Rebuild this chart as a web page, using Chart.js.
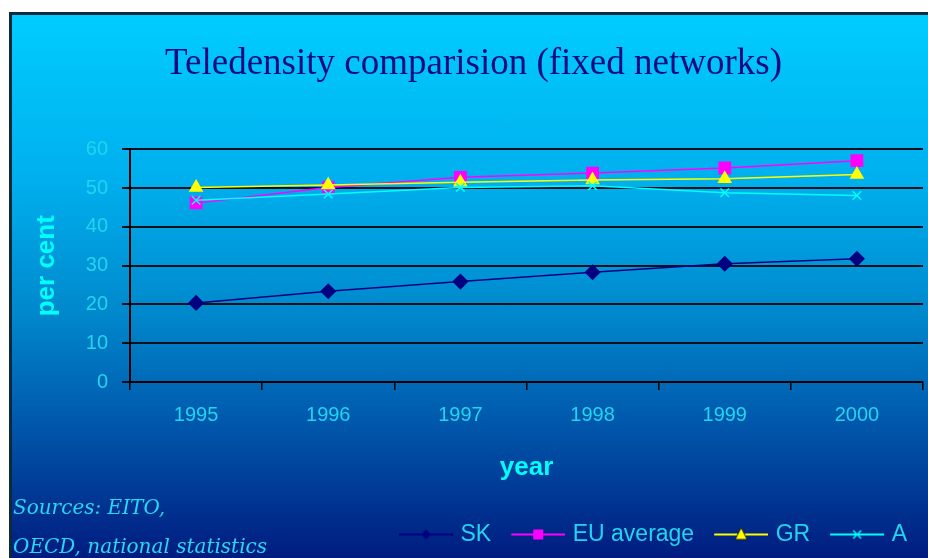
<!DOCTYPE html>
<html>
<head>
<meta charset="utf-8">
<script src="https://cdn.jsdelivr.net/npm/chart.js@4"></script>
<style>
  body { margin: 0; background: #fff; width: 928px; height: 558px; overflow: hidden; }
  #frame {
    position: absolute; left: 9px; top: 12px; width: 916px; height: 543px;
    border-left: 3px solid #0b2a3c; border-top: 3px solid #0b2a3c;
    background: linear-gradient(to bottom, #00ccff 0%, #00b0ee 30%, #0088cc 55%, #0058ac 75%, #001c80 100%);
  }
  #chart { position: absolute; left: 12px; top: 15px; }
  #sources {
    position: absolute; left: 13px; top: 488px;
    font: italic 20px "DejaVu Serif", serif; line-height: 39px; color: #2ad6ee;
  }
</style>
</head>
<body>
<div id="frame"></div>
<canvas id="chart" width="916" height="543"></canvas>
<div id="sources">Sources: EITO,<br>OECD, national statistics</div>
<script>
const years = ['1995', '1996', '1997', '1998', '1999', '2000'];
const skValues = [20.4, 23.4, 25.9, 28.3, 30.5, 31.8];
const euValues = [46.2, 50.2, 52.8, 53.9, 55.2, 57.1];
const grValues = [50.2, 50.8, 51.5, 52.1, 52.4, 53.5];
const aValues = [46.9, 48.5, 50.2, 50.6, 48.8, 48.1];
const seriesNames = ['SK', 'EU average', 'GR', 'A'];

const textColor = '#22d4ee';

// small line + marker pictures for the legend
function legendIcon(color, style) {
    const c = document.createElement('canvas');
    c.width = 62;
    c.height = 16;
    const g = c.getContext('2d');
    g.strokeStyle = color;
    g.lineWidth = 2;
    g.beginPath();
    g.moveTo(8, 8);
    g.lineTo(62, 8);
    g.stroke();
    g.fillStyle = color;
    const cx = 35, cy = 8;
    if (style === 'diamond') {
        g.beginPath();
        g.moveTo(cx, cy - 5); g.lineTo(cx + 5, cy); g.lineTo(cx, cy + 5); g.lineTo(cx - 5, cy);
        g.closePath(); g.fill();
    } else if (style === 'square') {
        g.fillRect(cx - 5, cy - 5, 10, 10);
    } else if (style === 'triangle') {
        g.beginPath();
        g.moveTo(cx, cy - 7); g.lineTo(cx + 6, cy + 5); g.lineTo(cx - 6, cy + 5);
        g.closePath(); g.fill();
        g.strokeStyle = '#1a1a10'; g.lineWidth = 1; g.stroke();
    } else {
        g.lineWidth = 1.5;
        g.beginPath();
        g.moveTo(cx - 4, cy - 4); g.lineTo(cx + 4, cy + 4);
        g.moveTo(cx + 4, cy - 4); g.lineTo(cx - 4, cy + 4);
        g.stroke();
    }
    return c;
}

const icons = [
    legendIcon('#000080', 'diamond'),
    legendIcon('#ff00ff', 'square'),
    legendIcon('#ffff00', 'triangle'),
    legendIcon('#00ffff', 'cross')
];

const ctx = document.getElementById('chart').getContext('2d');
new Chart(ctx, {
    type: 'line',
    data: {
        labels: years,
        datasets: [
            {
                label: seriesNames[0],
                data: skValues,
                borderColor: '#000080',
                backgroundColor: '#000080',
                borderWidth: 1.5,
                pointStyle: 'rectRot',
                pointRadius: 7,
                order: 3
            },
            {
                label: seriesNames[1],
                data: euValues,
                borderColor: '#ff00ff',
                backgroundColor: '#ff00ff',
                borderWidth: 1.5,
                pointStyle: 'rect',
                pointRadius: 8,
                order: 2
            },
            {
                label: seriesNames[2],
                data: grValues,
                borderColor: '#ffff00',
                backgroundColor: '#ffff00',
                borderWidth: 1.5,
                pointStyle: 'triangle',
                pointRadius: 7,
                order: 1
            },
            {
                label: seriesNames[3],
                data: aValues,
                borderColor: '#00ffff',
                backgroundColor: '#00ffff',
                borderWidth: 1.5,
                pointStyle: 'crossRot',
                pointRadius: 6,
                pointBorderWidth: 1.5,
                order: 0
            }
        ]
    },
    options: {
        responsive: false,
        devicePixelRatio: 1,
        animation: false,
        layout: {
            autoPadding: false,
            padding: { left: 12, right: 5, top: 0, bottom: 2 }
        },
        plugins: {
            title: {
                display: true,
                text: 'Teledensity comparision (fixed networks)',
                color: '#0a0a82',
                font: { family: 'Liberation Serif', size: 37, weight: 'normal' },
                padding: { top: 27, bottom: 63 }
            },
            legend: {
                position: 'bottom',
                align: 'end',
                labels: {
                    color: textColor,
                    font: { family: 'Liberation Sans', size: 23 },
                    usePointStyle: true,
                    pointStyleWidth: 54,
                    padding: 16,
                    generateLabels: function(chart) {
                        return chart.data.datasets.map(function(ds, i) {
                            return {
                                text: ds.label,
                                fillStyle: ds.backgroundColor,
                                strokeStyle: ds.borderColor,
                                pointStyle: icons[i],
                                fontColor: textColor,
                                hidden: false,
                                datasetIndex: i
                            };
                        });
                    }
                }
            },
            tooltip: { enabled: false }
        },
        scales: {
            x: {
                offset: true,
                grid: {
                    offset: true,
                    drawOnChartArea: false,
                    drawTicks: true,
                    tickLength: 8,
                    color: '#000000',
                    lineWidth: 1.5
                },
                border: { color: '#000000', width: 2 },
                ticks: {
                    color: textColor,
                    font: { family: 'Liberation Sans', size: 20 },
                    padding: 13
                },
                title: {
                    display: true,
                    text: 'year',
                    color: '#00ffff',
                    font: { family: 'Liberation Sans', size: 26, weight: 'bold' },
                    padding: { top: 0, bottom: 24 }
                },
                afterFit: function(scale) {
                    scale.height = 125;
                    scale.paddingLeft = 0;
                    scale.paddingRight = 0;
                }
            },
            y: {
                min: 0,
                max: 60,
                ticks: {
                    stepSize: 10,
                    color: textColor,
                    font: { family: 'Liberation Sans', size: 20 },
                    padding: 14
                },
                grid: {
                    color: '#0a0f1e',
                    lineWidth: 2,
                    tickLength: 8
                },
                border: { color: '#000000', width: 2 },
                title: {
                    display: true,
                    text: 'per cent',
                    color: '#00ffff',
                    font: { family: 'Liberation Sans', size: 26, weight: 'bold' },
                    padding: { top: 7, bottom: 0 }
                },
                afterFit: function(scale) { scale.width = 106; }
            }
        }
    }
});
</script>
</body>
</html>
